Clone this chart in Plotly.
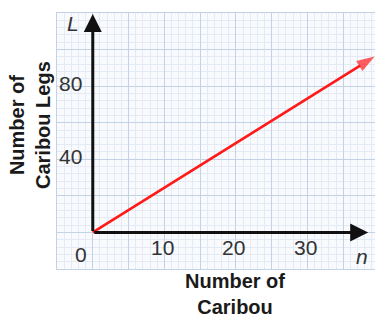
import plotly.graph_objects as go

# Data
caribou = [0, 39.4]          # n
legs = [0, 96.2]             # L
x_tick_vals = [10, 20, 30]
x_tick_text = ["10", "20", "30"]
y_tick_vals = [40, 80]
y_tick_text = ["40", "80"]
x_axis_end = 38.5
y_axis_end = 119.5

X_RANGE = [-5, 39.45]
Y_RANGE = [-20, 120]

fig = go.Figure()

fig.add_trace(go.Scatter(
    x=caribou, y=legs, mode="lines+markers",
    line=dict(color="#ff1a1a", width=2.6),
    marker=dict(symbol=["circle", "arrow"], size=[0, 19], angleref="previous",
                color="#ff1a1a", line=dict(width=0)),
    cliponaxis=False,
    hoverinfo="skip", showlegend=False,
))

ann = []
# black axes with arrows
ann.append(dict(x=0, y=y_axis_end, ax=0, ay=0, xref="x", yref="y", axref="x", ayref="y",
                showarrow=True, arrowhead=2, arrowsize=1.2, arrowwidth=3, arrowcolor="#111", text=""))
ann.append(dict(x=x_axis_end, y=0, ax=0, ay=0, xref="x", yref="y", axref="x", ayref="y",
                showarrow=True, arrowhead=2, arrowsize=1.2, arrowwidth=3, arrowcolor="#111", text=""))

tick_font = dict(family="Liberation Sans, Arial, sans-serif", size=21, color="#333")
for v, t in zip(x_tick_vals, x_tick_text):
    ann.append(dict(x=v, y=0, xref="x", yref="y", text=t, showarrow=False,
                    font=tick_font, yanchor="middle", yshift=-15, xshift=-2))
for v, t in zip(y_tick_vals, y_tick_text):
    ann.append(dict(x=0, y=v, xref="x", yref="y", text=t, showarrow=False,
                    font=tick_font, xanchor="center", xshift=-22, yshift=3))
ann.append(dict(x=0, y=0, xref="x", yref="y", text="0", showarrow=False,
                font=tick_font, xshift=-12, yshift=-22))
# variable labels
var_font = dict(family="Liberation Sans, Arial, sans-serif", size=21, color="#333")
ann.append(dict(x=0, y=120, xref="x", yref="y", text="<i>L</i>", showarrow=False,
                font=var_font, xshift=-20, yshift=-10))
ann.append(dict(x=x_axis_end, y=0, xref="x", yref="y", text="<i>n</i>", showarrow=False,
                font=var_font, xshift=-6, yshift=-24))

title_font = dict(family="Liberation Sans, Arial, sans-serif", size=20, color="#1a1a1a")
ann.append(dict(x=(235 - 57) / 318, y=(269 - 294) / 256, xref="paper", yref="paper",
                text="<b>Number of<br>Caribou</b>", showarrow=False, font=title_font,
                xanchor="center", yanchor="middle"))
ann.append(dict(x=(30 - 57) / 318, y=(269 - 125) / 256, xref="paper", yref="paper",
                text="<b>Number of<br>Caribou Legs</b>", showarrow=False, font=title_font,
                textangle=-90, xanchor="center", yanchor="middle"))

fig.update_layout(
    width=375, height=318,
    margin=dict(l=57, r=0, t=13, b=49),
    paper_bgcolor="white", plot_bgcolor="#f8fafd",
    annotations=ann,
    xaxis=dict(range=X_RANGE, dtick=5, tick0=0, showticklabels=False, ticks="",
               showgrid=True, gridcolor="#c3d2e4", gridwidth=1.3, zeroline=False,
               showline=True, linecolor="#c3d2e4", linewidth=1.3, mirror=True,
               minor=dict(dtick=1, showgrid=True, gridcolor="#e4ebf5", gridwidth=1),
               fixedrange=True),
    yaxis=dict(range=Y_RANGE, dtick=20, tick0=0, showticklabels=False, ticks="",
               showgrid=True, gridcolor="#c3d2e4", gridwidth=1.3, zeroline=False,
               showline=True, linecolor="#c3d2e4", linewidth=1.3, mirror=False,
               minor=dict(dtick=4, showgrid=True, gridcolor="#e4ebf5", gridwidth=1),
               fixedrange=True),
)

fig.write_html("out.html", config={"displayModeBar": False},
               post_script="document.body.style.margin='0';document.body.style.overflow='hidden';")
